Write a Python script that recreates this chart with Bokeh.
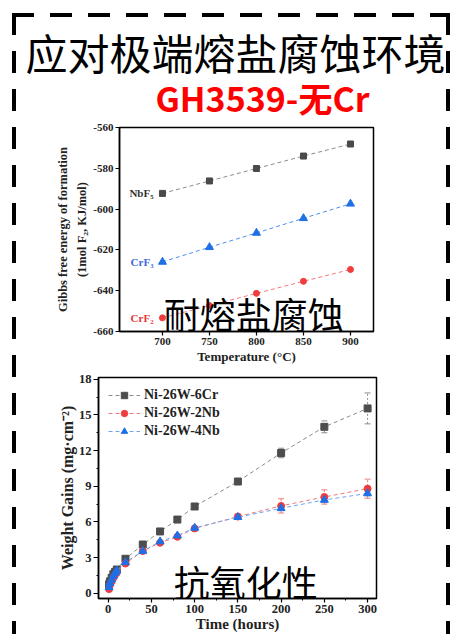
from bokeh.plotting import figure
from bokeh.models import (Range1d, Label, Whisker, ColumnDataSource, Legend,
                          LegendItem, FixedTicker, TeeHead)
from bokeh.layouts import column
from bokeh.embed import file_html
from bokeh.resources import INLINE
from bokeh.core.properties import value

# ---------------- data ----------------
title_text = "应对极端熔盐腐蚀环境"
subtitle_text = "GH3539-无Cr"
overlay_top = "耐熔盐腐蚀"
overlay_bot = "抗氧化性"

temps = [700, 750, 800, 850, 900]
nbf5 = [-592.3, -586.2, -580.1, -574.0, -568.1]
crf3 = [-625.9, -618.7, -611.7, -604.5, -597.4]
crf2 = [-653.3, -647.3, -641.3, -635.4, -629.6]
top_xticks = [700, 750, 800, 850, 900]
top_yticks = [-660, -640, -620, -600, -580, -560]

times = [1, 2, 4, 6, 8, 10, 20, 40, 60, 80, 100, 150, 200, 250, 300]
cr6 = [0.75, 1.0, 1.3, 1.6, 1.8, 2.0, 2.9, 4.1, 5.2, 6.2, 7.3, 9.4, 11.8, 14.0, 15.55]
cr6_err = [0.05, 0.05, 0.05, 0.05, 0.05, 0.05, 0.1, 0.1, 0.1, 0.1, 0.12, 0.15, 0.4, 0.5, 1.3]
nb2 = [0.35, 0.7, 1.0, 1.3, 1.55, 1.75, 2.5, 3.55, 4.25, 4.75, 5.45, 6.45, 7.35, 8.1, 8.8]
nb2_err = [0.05, 0.05, 0.05, 0.05, 0.05, 0.05, 0.1, 0.1, 0.1, 0.1, 0.1, 0.2, 0.6, 0.6, 0.8]
nb4 = [0.5, 0.85, 1.15, 1.45, 1.7, 1.9, 2.6, 3.55, 4.35, 4.85, 5.5, 6.4, 7.15, 7.85, 8.4]
nb4_err = [0.05, 0.05, 0.05, 0.05, 0.05, 0.05, 0.05, 0.05, 0.05, 0.05, 0.05, 0.1, 0.2, 0.2, 0.2]
bot_xticks = [0, 50, 100, 150, 200, 250, 300]
bot_yticks = [0, 3, 6, 9, 12, 15, 18]

SERIF = "Liberation Serif"
CJK = "Noto Sans CJK SC"
W = 442


def clear_bg(p):
    p.border_fill_color = None
    p.background_fill_color = None


# ---------------- title figure ----------------
ft = figure(width=W, height=113, x_range=Range1d(0, W), y_range=Range1d(113, 0),
            output_backend="svg", toolbar_location=None, min_border=0,
            x_axis_location=None, y_axis_location=None, frame_align=False)
ft.grid.visible = False
ft.outline_line_color = None
clear_bg(ft)
ft.add_layout(Label(x=17, y=43, text=title_text, text_font=CJK, text_font_size="42px",
                    text_color="black", text_baseline="middle", text_align="left"))
ft.add_layout(Label(x=254, y=88.5, text=subtitle_text, text_font=CJK, text_font_size="34px",
                    text_font_style="bold", text_color="#ff0000",
                    text_baseline="middle", text_align="center"))


def style_axes(p, tick_size, minor):
    p.grid.visible = False
    p.outline_line_color = "black"
    p.outline_line_width = 1.5
    clear_bg(p)
    for ax in (p.xaxis[0], p.yaxis[0]):
        ax.axis_line_width = 1.5
        ax.major_tick_line_width = 1.2
        ax.major_tick_in = 0
        ax.major_tick_out = 4
        ax.minor_tick_in = 0
        ax.minor_tick_out = 2 if minor else 0
        ax.major_label_text_font = SERIF
        ax.major_label_text_font_style = "bold"
        ax.major_label_text_font_size = tick_size
        ax.major_label_text_color = "#222222"
        ax.major_label_standoff = 2
        ax.axis_label_text_font = SERIF
        ax.axis_label_text_font_style = "bold"
        ax.axis_label_text_color = "#222222"


# ---------------- top chart ----------------
p1 = figure(width=W, height=247, x_range=Range1d(654.3, 924.5), y_range=Range1d(-660, -560),
            output_backend="svg", toolbar_location=None, frame_align=False,
            min_border_left=111, min_border_right=77, min_border_top=6, min_border_bottom=37)
style_axes(p1, "11px", False)
p1.xaxis.ticker = FixedTicker(ticks=top_xticks)
p1.yaxis.ticker = FixedTicker(ticks=top_yticks)
p1.yaxis.major_label_overrides = {v: str(v) for v in top_yticks}
p1.xaxis.axis_label = "Temperature (°C)"
p1.xaxis.axis_label_text_font_size = "13px"
p1.xaxis.axis_label_standoff = 1
p1.yaxis.axis_label = "Gibbs free energy of formation\n(1mol F\u2082, KJ/mol)"
p1.yaxis.axis_label_text_font_size = "12.5px"
p1.yaxis.axis_label_text_line_height = 1.4
p1.yaxis.axis_label_standoff = 1

series_top = [
    (nbf5, "#8c8c8c", "#4a4a4a", "square", 6, "NbF\u2085", "#333333"),
    (crf3, "#4d8ef0", "#1f6fe6", "triangle", 8, "CrF\u2083", "#3a66e0"),
    (crf2, "#f07a7a", "#f03c3c", "circle", 6, "CrF\u2082", "#e83535"),
]
for ys, lc, mc, mk, sz, lab, tc in series_top:
    p1.line(temps, ys, line_color=lc, line_dash="4 3", line_width=1)
    p1.scatter(temps, ys, marker=mk, size=sz, fill_color=mc, line_color=mc)
    p1.text(x=[temps[0]], y=[ys[0]], text=[lab], x_offset=-9, text_align="right",
            text_baseline="middle", text_font=value(SERIF), text_font_style="bold",
            text_font_size="11px", text_color=tc)

p1.add_layout(Label(x=797, y=-651, text=overlay_top, text_font=CJK, text_font_size="36px",
                    text_color="black", text_align="center", text_baseline="middle"))

# ---------------- bottom chart ----------------
bx0, bx1 = -11.2, 310.3
by0, by1 = -0.44, 18.15
p2 = figure(width=W, height=266, x_range=Range1d(bx0, bx1), y_range=Range1d(by0, by1),
            output_backend="svg", toolbar_location=None, frame_align=False,
            min_border_left=90, min_border_right=74, min_border_top=9, min_border_bottom=34)
style_axes(p2, "12.5px", True)
p2.xaxis.ticker = FixedTicker(ticks=bot_xticks, minor_ticks=[25, 75, 125, 175, 225, 275])
p2.yaxis.ticker = FixedTicker(ticks=bot_yticks, minor_ticks=[1.5, 4.5, 7.5, 10.5, 13.5, 16.5])
p2.yaxis.major_tick_out = 5
p2.yaxis.axis_label = "Weight Gains (mg\u00b7cm\u207b\u00b2)"
p2.yaxis.axis_label_text_font_size = "16px"
p2.yaxis.axis_label_standoff = 0
p2.xaxis.axis_label = "Time (hours)"
p2.xaxis.axis_label_text_font_size = "15px"
p2.xaxis.axis_label_standoff = 0

series_bot = [
    (cr6, cr6_err, "#8c8c8c", "#4d4d4d", "square", 7, "Ni-26W-6Cr"),
    (nb2, nb2_err, "#f07a7a", "#f03c3c", "circle", 7, "Ni-26W-2Nb"),
    (nb4, nb4_err, "#6fa3f2", "#1f6fe6", "triangle", 8, "Ni-26W-4Nb"),
]
items = []
for ys, es, lc, mc, mk, sz, lab in series_bot:
    src = ColumnDataSource(dict(t=times, y=ys,
                                lo=[a - b for a, b in zip(ys, es)],
                                hi=[a + b for a, b in zip(ys, es)]))
    wk = Whisker(source=src, base="t", upper="hi", lower="lo", line_color=lc,
                 line_width=1, line_dash="2 2",
                 upper_head=TeeHead(size=6, line_color=lc, line_width=1),
                 lower_head=TeeHead(size=6, line_color=lc, line_width=1))
    p2.add_layout(wk)
    lr = p2.line("t", "y", source=src, line_color=lc, line_dash="4 3", line_width=1)
    sr = p2.scatter("t", "y", source=src, marker=mk, size=sz, fill_color=mc, line_color=mc)
    items.append(LegendItem(label=lab, renderers=[lr, sr]))

leg = Legend(items=items, location="top_left", margin=10, padding=4, spacing=2,
             glyph_width=32, glyph_height=16, label_height=16, label_standoff=4,
             label_text_font=SERIF, label_text_font_style="bold",
             label_text_font_size="14px", label_text_color="#222222",
             border_line_color=None, background_fill_alpha=0)
p2.add_layout(leg)

p2.add_layout(Label(x=159, y=1.05, text=overlay_bot, text_font=CJK, text_font_size="36px",
                    text_color="black", text_align="center", text_baseline="middle"))

dash_h = "repeating-linear-gradient(90deg, #000 0px, #000 22px, transparent 22px, transparent 38px)"
dash_v = "repeating-linear-gradient(180deg, #000 0px, #000 22px, transparent 22px, transparent 38px)"
layout = column(ft, p1, p2, spacing=0,
                styles={"background-image": f"{dash_h}, {dash_v}, {dash_v}",
                        "background-size": "calc(100% - 12px) 4px, 4px calc(100% - 13px), 4px calc(100% - 13px)",
                        "background-position": "12px 13px, 12px 13px, 100% 13px",
                        "background-repeat": "no-repeat",
                        "padding": "8px 0px 0px 8px"})

open("out.html", "w").write(file_html(layout, INLINE))
